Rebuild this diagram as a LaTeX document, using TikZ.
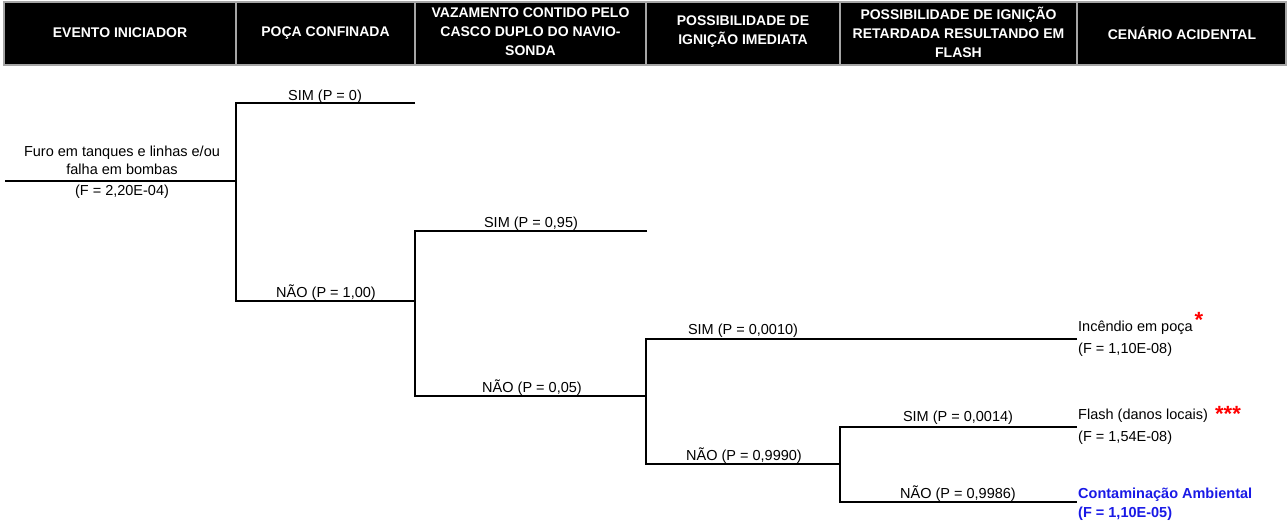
\documentclass[tikz,border=0pt]{standalone}
\usepackage{fontspec}
\setmainfont{Liberation Sans}
\definecolor{hdrgray}{RGB}{165,165,165}
\definecolor{outblue}{RGB}{25,25,230}
\begin{document}
\begin{tikzpicture}[x=1pt,y=-1pt,
  txt/.style={font=\fontsize{14.5}{20}\selectfont, inner sep=0pt},
  hdr/.style={font=\fontsize{14}{19}\selectfont\bfseries, text=white, align=center, inner sep=0pt},
  branch/.style={line width=2pt, black},
  sep/.style={line width=2pt, hdrgray},
  lbl/.style={txt, anchor=base},
  outc/.style={txt, anchor=base west},
  outcb/.style={outc, font=\fontsize{14.5}{20}\selectfont\bfseries, text=outblue},
  starmark/.style={font=\fontsize{22}{22}\selectfont\bfseries, text=red, inner sep=0pt, anchor=base}
]
\useasboundingbox (0,0) rectangle (1287,522);
% header band
\fill[black] (3.5,1.5) rectangle (1286,65);
\draw[sep] (3.5,1.5) rectangle (1286,65);
\foreach \xx in {236,415,646,840,1077} \draw[sep] (\xx,1.5) -- (\xx,65);
\node[hdr] (h1) at (120,33) {EVENTO INICIADOR};
\node[hdr] (h2) at (325.5,33) {POÇA CONFINADA};
\node[hdr] (h3) at (530.5,32) {VAZAMENTO CONTIDO PELO\\CASCO DUPLO DO NAVIO-\\SONDA};
\node[hdr] (h4) at (743,32) {POSSIBILIDADE DE\\IGNIÇÃO IMEDIATA};
\node[hdr] (h5) at (958.5,32) {POSSIBILIDADE DE IGNIÇÃO\\RETARDADA RESULTANDO EM\\FLASH};
\node[hdr] (h6) at (1182,33) {CENÁRIO ACIDENTAL};
% tree points
\coordinate (s0) at (5,181);
\coordinate (b1) at (236,181);
\coordinate (b1t) at (236,103);
\coordinate (b1b) at (236,301);
\coordinate (e1) at (415,103);
\coordinate (b2) at (415,301);
\coordinate (b2t) at (415,231);
\coordinate (b2b) at (415,396);
\coordinate (e2) at (647,231);
\coordinate (b3) at (646,396);
\coordinate (b3t) at (646,339);
\coordinate (b3b) at (646,464);
\coordinate (e3) at (1077,339);
\coordinate (b4) at (840,464);
\coordinate (b4t) at (840,427);
\coordinate (b4b) at (840,502);
\coordinate (e4) at (1077,427);
\coordinate (e5) at (1077,502);
% branches
\draw[branch] (s0) -- (b1);
\draw[branch] (e1) -- (b1t) -- (b1b) -- (b2);
\draw[branch] (e2) -- (b2t) -- (b2b) -- (b3);
\draw[branch] (e3) -- (b3t) -- (b3b) -- (b4);
\draw[branch] (e4) -- (b4t) -- (b4b) -- (e5);
% initiating event
\node[lbl] (ie1) at (122,156) {Furo em tanques e linhas e/ou};
\node[lbl] (ie2) at (122,174) {falha em bombas};
\node[lbl] (ie3) at (122,195) {(F = 2,20E-04)};
% branch labels
\node[lbl] (l1) at (325,100) {SIM (P = 0)};
\node[lbl] (l2) at (326,297) {NÃO (P = 1,00)};
\node[lbl] (l3) at (531,227) {SIM (P = 0,95)};
\node[lbl] (l4) at (532,392) {NÃO (P = 0,05)};
\node[lbl] (l5) at (743,334) {SIM (P = 0,0010)};
\node[lbl] (l6) at (744,460) {NÃO (P = 0,9990)};
\node[lbl] (l7) at (958,421) {SIM (P = 0,0014)};
\node[lbl] (l8) at (958,498) {NÃO (P = 0,9986)};
% outcomes
\node[outc] (o1a) at (1078,331) {Incêndio em poça};
\node[outc] (o1b) at (1078,353) {(F = 1,10E-08)};
\node[starmark] (st1) at (1199,327) {*};
\node[outc] (o2a) at (1078,419) {Flash (danos locais)};
\node[outc] (o2b) at (1078,441) {(F = 1,54E-08)};
\node[starmark] (st2) at (1228,421) {***};
\node[outcb] (o3a) at (1078,498) {Contaminação Ambiental};
\node[outcb] (o3b) at (1078,517) {(F = 1,10E-05)};
\end{tikzpicture}
\end{document}
